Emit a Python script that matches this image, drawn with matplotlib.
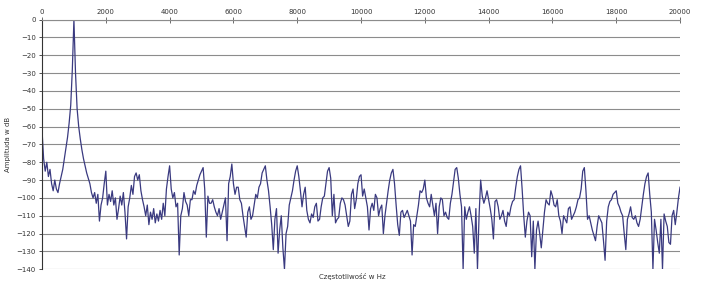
import matplotlib
matplotlib.use("Agg")
import matplotlib.pyplot as plt
import numpy as np

# amplitude spectrum, one value every 50 Hz from 0 to 20000 Hz
step_hz = 50
amp_db = [
    -62, -78, -85, -80, -88, -84, -92, -96, -90, -95,
    -97, -92, -88, -84, -78, -72, -66, -58, -48, -28,
    0, -30, -50, -60, -67, -73, -78, -82, -86, -89,
    -92, -97, -100, -97, -103, -98, -113, -104, -100, -92,
    -85, -104, -98, -102, -96, -104, -100, -112, -106, -99,
    -104, -97, -108, -123, -105, -100, -93, -98, -88, -86,
    -90, -87, -96, -101, -105, -110, -104, -115, -108, -112,
    -106, -114, -109, -113, -107, -112, -103, -110, -95, -88,
    -82, -95, -100, -97, -105, -103, -132, -110, -106, -97,
    -102, -104, -110, -101, -101, -96, -98, -93, -90, -87,
    -85, -83, -95, -122, -99, -103, -103, -101, -105, -108,
    -110, -106, -112, -108, -104, -100, -124, -92, -88, -81,
    -92, -98, -94, -94, -101, -103, -110, -116, -122, -108,
    -105, -112, -110, -104, -98, -100, -94, -92, -86, -84,
    -82, -90, -96, -105, -115, -129, -112, -106, -131, -118,
    -110, -128, -140, -120, -116, -104, -100, -96, -90, -85,
    -82, -88, -96, -105, -98, -94, -107, -112, -114, -109,
    -111, -105, -103, -113, -112, -105, -100, -99, -92, -85,
    -83, -89, -110, -98, -114, -112, -111, -103, -100, -101,
    -104, -110, -116, -113, -98, -95, -106, -101, -92, -88,
    -87, -99, -95, -100, -105, -118, -106, -103, -107, -98,
    -100, -110, -106, -104, -120, -110, -103, -96, -90, -86,
    -84, -92, -104, -115, -121, -108, -107, -111, -109, -107,
    -110, -113, -132, -115, -116, -110, -104, -96, -97, -95,
    -90, -100, -103, -105, -98, -104, -110, -103, -120, -105,
    -100, -101, -110, -108, -111, -112, -103, -98, -91, -84,
    -83, -89, -98, -105, -140, -105, -112, -108, -105, -110,
    -116, -131, -106, -140, -110, -90, -99, -103, -100, -96,
    -101, -106, -112, -123, -102, -101, -105, -112, -110, -107,
    -113, -116, -108, -110, -105, -102, -101, -94, -88, -84,
    -82, -95, -110, -122, -113, -108, -110, -133, -113, -140,
    -118, -113, -120, -128, -118, -108, -101, -103, -104, -96,
    -99, -104, -105, -101, -110, -113, -120, -110, -112, -114,
    -106, -105, -112, -110, -108, -105, -101, -100, -95, -85,
    -83, -96, -112, -110, -114, -118, -121, -124, -116, -110,
    -112, -114, -124, -135, -113, -105, -102, -101, -98, -97,
    -96, -103, -105, -108, -110, -120, -129, -112, -109, -105,
    -111, -112, -110, -114, -116, -112, -105, -98, -92, -88,
    -86, -98, -108, -140, -112, -118, -125, -131, -112, -140,
    -109, -113, -116, -125, -126, -110, -107, -115, -108, -100,
    -94,
]
x_ticks = [0, 2000, 4000, 6000, 8000, 10000, 12000, 14000, 16000, 18000, 20000]
y_ticks = [0, -10, -20, -30, -40, -50, -60, -70, -80, -90, -100, -110, -120, -130, -140]

amp = np.array(amp_db, dtype=float)
freq = np.arange(len(amp)) * step_hz

fig = plt.figure(figsize=(7.05, 2.84), dpi=100)
ax = fig.add_axes([0.0596, 0.052, 0.905, 0.879])

ax.plot(freq, amp, color='#3a3a80', lw=0.9)

ax.set_xlim(0, 20000)
ax.set_ylim(-140, 0)
ax.set_xticks(x_ticks)
ax.set_yticks(y_ticks)
ax.xaxis.tick_top()
ax.tick_params(axis='x', direction='inout', length=4, width=0.6, colors='#555555',
               labelsize=5, labelcolor='#333333', pad=1)
ax.tick_params(axis='y', direction='out', length=2.5, width=0.6, colors='#333333',
               labelsize=5, labelcolor='#333333', pad=2)
ax.grid(axis='y', color='#8c8c8c', lw=0.8)
ax.set_axisbelow(True)

for s in ['right', 'bottom']:
    ax.spines[s].set_visible(False)
ax.spines['top'].set_color('#8c8c8c')
ax.spines['top'].set_linewidth(0.8)
ax.spines['left'].set_color('#333333')
ax.spines['left'].set_linewidth(0.8)

ax.set_ylabel('Amplituda w dB', fontsize=5, color='#333333', labelpad=4)
fig.text(0.5, 0.025, 'Częstotliwość w Hz', fontsize=5, color='#333333',
         ha='center', va='center')

fig.savefig('out.png', dpi=100)
